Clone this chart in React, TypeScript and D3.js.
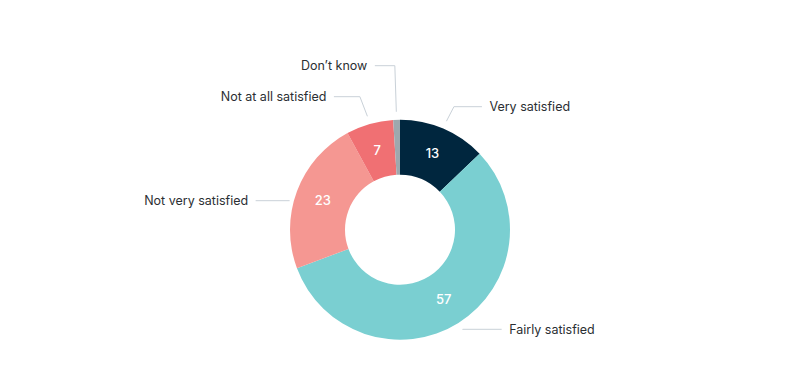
import React from "react";
import * as d3 from "d3";

const categories = ["Very satisfied", "Fairly satisfied", "Not very satisfied", "Not at all satisfied", "Don\u2019t know"];
const values = [13, 57, 23, 7, 1];
const shownValues = ["13", "57", "23", "7", ""];
const colors = ["#00263e", "#7acfd1", "#f59792", "#f07073", "#9ea8ae"];

// label layout (relative to pie centre): side, label y offset, elbow x offset from anchor
const labelLayout = [
  { side: 1, dy: -123, elbowDx: 7.5, lineLen: 28, flat: false },
  { side: 1, dy: 99.6, elbowDx: 0, lineLen: 39, flat: false },
  { side: -1, dy: -29, elbowDx: 0, lineLen: 34, flat: true },
  { side: -1, dy: -133, elbowDx: -7.5, lineLen: 26, flat: false },
  { side: -1, dy: -164, elbowDx: -1.5, lineLen: 20, flat: false },
];

const W = 800;
const H = 392;
const cx = 400;
const cy = 229.7;
const outerR = 110;
const innerR = 55;
const anchorR = 118;

export default function App() {
  const pie = d3.pie<number>().sort(null).value((d) => d)(values);
  const arc = d3.arc<d3.PieArcDatum<number>>().innerRadius(innerR).outerRadius(outerR);
  const labelArc = d3.arc<d3.PieArcDatum<number>>().innerRadius(innerR).outerRadius(outerR);

  return (
    <div style={{ position: "absolute", left: 0, top: 0, width: W, height: H, background: "#fff" }}>
      <svg width={W} height={H} style={{ display: "block", fontFamily: "Inter, 'Noto Sans', sans-serif" }}>
        <g>
          {pie.map((p, i) => {
            const L = labelLayout[i];
            const mid = (p.startAngle + p.endAngle) / 2;
            const ly = cy + L.dy;
            let ax: number, ay: number;
            if (L.flat) {
              ay = ly;
              ax = cx + L.side * Math.sqrt(anchorR * anchorR - L.dy * L.dy) + (L.side < 0 ? 4 : -4);
            } else {
              ax = cx + anchorR * Math.sin(mid);
              ay = cy - anchorR * Math.cos(mid);
            }
            const ex = ax + L.elbowDx;
            const endX = ex + L.side * L.lineLen;
            const pts: [number, number][] = [[ax, ay], [ex, ly], [endX, ly]];
            return (
              <g key={"l" + i}>
                <path d={d3.line()(pts) || ""} fill="none" stroke="#c9d1d8" strokeWidth={1} />
                <text
                  x={endX + L.side * 7.5}
                  y={ly}
                  dy="0.35em"
                  textAnchor={L.side > 0 ? "start" : "end"}
                  fontSize={12.5}
                  fill="#2b2f33"
                >
                  {categories[i]}
                </text>
              </g>
            );
          })}
        </g>
        <g transform={`translate(${cx},${cy})`}>
          {pie.map((p, i) => (
            <path key={"s" + i} d={arc(p) || ""} fill={colors[i]} stroke="none" />
          ))}
          {pie.map((p, i) => {
            const [x, y] = labelArc.centroid(p);
            return shownValues[i] ? (
              <text
                key={"v" + i}
                x={x}
                y={y}
                dy="0.35em"
                textAnchor="middle"
                fontSize={13}
                fontWeight={500}
                fill="#ffffff"
              >
                {shownValues[i]}
              </text>
            ) : null;
          })}
        </g>
      </svg>
    </div>
  );
}
